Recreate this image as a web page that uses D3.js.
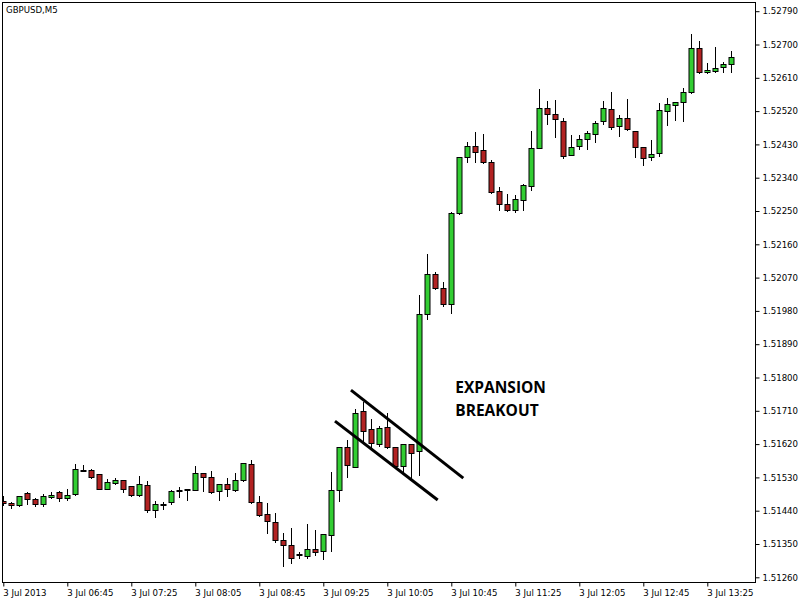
<!DOCTYPE html>
<html><head><meta charset="utf-8">
<script src="https://cdn.jsdelivr.net/npm/d3@7"></script>
<style>
html,body{margin:0;padding:0;background:#fff;}
svg{display:block;}
</style></head>
<body>
<svg id="chart" width="802" height="600"></svg>
<script>
const symbolTitle = "GBPUSD,M5";
const barTimes = ["06:05","06:10","06:15","06:20","06:25","06:30","06:35","06:40","06:45","06:50","06:55",
"07:00","07:05","07:10","07:15","07:20","07:25","07:30","07:35","07:40","07:45","07:50","07:55",
"08:00","08:05","08:10","08:15","08:20","08:25","08:30","08:35","08:40","08:45","08:50","08:55",
"09:00","09:05","09:10","09:15","09:20","09:25","09:30","09:35","09:40","09:45","09:50","09:55",
"10:00","10:05","10:10","10:15","10:20","10:25","10:30","10:35","10:40","10:45","10:50","10:55",
"11:00","11:05","11:10","11:15","11:20","11:25","11:30","11:35","11:40","11:45","11:50","11:55",
"12:00","12:05","12:10","12:15","12:20","12:25","12:30","12:35","12:40","12:45","12:50","12:55",
"13:00","13:05","13:10","13:15","13:20","13:25","13:30","13:35","13:40"];
const opens = [1.51467,1.51461,1.51455,1.51488,1.51472,1.51458,1.51478,1.51491,1.51474,1.51484,
1.51549,1.51549,1.51539,1.51500,1.51516,1.51523,1.51507,1.51482,1.51510,1.51443,
1.51455,1.51463,1.51494,1.51499,1.51497,1.51541,1.51530,1.51492,1.51511,1.51495,
1.51522,1.51565,1.51463,1.51430,1.51409,1.51360,1.51346,1.51321,1.51318,1.51336,
1.51330,1.51374,1.51495,1.51611,1.51559,1.51709,1.51660,1.51620,1.51665,1.51611,
1.51562,1.51620,1.51601,1.51971,1.52079,1.52041,1.51998,1.52244,1.52395,1.52425,
1.52414,1.52382,1.52303,1.52268,1.52252,1.52279,1.52317,1.52421,1.52528,1.52511,
1.52492,1.52401,1.52425,1.52444,1.52457,1.52492,1.52525,1.52479,1.52501,1.52465,
1.52422,1.52395,1.52406,1.52520,1.52536,1.52544,1.52571,1.52690,1.52625,1.52628,
1.52638,1.52647];
const highs = [1.51480,1.51464,1.51480,1.51491,1.51474,1.51485,1.51490,1.51492,1.51499,1.51566,
1.51564,1.51552,1.51540,1.51526,1.51528,1.51524,1.51508,1.51535,1.51520,1.51467,
1.51464,1.51495,1.51505,1.51500,1.51561,1.51542,1.51546,1.51512,1.51528,1.51541,
1.51569,1.51576,1.51480,1.51460,1.51433,1.51379,1.51392,1.51328,1.51403,1.51387,
1.51377,1.51544,1.51612,1.51631,1.51715,1.51735,1.51687,1.51669,1.51703,1.51612,
1.51621,1.51621,1.52023,1.52134,1.52085,1.52057,1.52247,1.52396,1.52436,1.52463,
1.52458,1.52387,1.52314,1.52295,1.52292,1.52322,1.52465,1.52579,1.52547,1.52549,
1.52501,1.52455,1.52455,1.52465,1.52492,1.52547,1.52571,1.52509,1.52552,1.52466,
1.52423,1.52441,1.52541,1.52555,1.52545,1.52582,1.52728,1.52709,1.52649,1.52692,
1.52652,1.52682];
const lows = [1.51455,1.51447,1.51454,1.51459,1.51452,1.51452,1.51475,1.51467,1.51470,1.51483,
1.51546,1.51529,1.51499,1.51499,1.51512,1.51490,1.51481,1.51481,1.51437,1.51424,
1.51445,1.51457,1.51478,1.51469,1.51496,1.51493,1.51489,1.51470,1.51479,1.51492,
1.51519,1.51462,1.51425,1.51379,1.51355,1.51290,1.51300,1.51311,1.51313,1.51320,
1.51310,1.51330,1.51465,1.51532,1.51558,1.51629,1.51609,1.51615,1.51610,1.51561,
1.51539,1.51528,1.51537,1.51958,1.52040,1.51994,1.51974,1.52243,1.52382,1.52382,
1.52379,1.52300,1.52253,1.52251,1.52247,1.52252,1.52308,1.52420,1.52484,1.52449,
1.52392,1.52400,1.52417,1.52417,1.52436,1.52484,1.52471,1.52452,1.52470,1.52395,
1.52374,1.52387,1.52398,1.52482,1.52495,1.52492,1.52570,1.52624,1.52622,1.52627,
1.52627,1.52627];
const closes = [1.51460,1.51455,1.51479,1.51471,1.51458,1.51479,1.51482,1.51474,1.51482,1.51552,
1.51547,1.51530,1.51500,1.51518,1.51523,1.51500,1.51482,1.51512,1.51443,1.51458,
1.51457,1.51493,1.51496,1.51495,1.51541,1.51530,1.51490,1.51511,1.51500,1.51522,
1.51568,1.51464,1.51428,1.51411,1.51360,1.51346,1.51311,1.51323,1.51336,1.51328,
1.51376,1.51495,1.51611,1.51563,1.51703,1.51656,1.51622,1.51663,1.51611,1.51562,
1.51620,1.51597,1.51972,1.52079,1.52041,1.51998,1.52244,1.52395,1.52425,1.52410,
1.52382,1.52301,1.52268,1.52252,1.52282,1.52320,1.52420,1.52528,1.52511,1.52498,
1.52398,1.52422,1.52444,1.52460,1.52487,1.52528,1.52476,1.52501,1.52471,1.52422,
1.52392,1.52403,1.52522,1.52538,1.52544,1.52571,1.52690,1.52625,1.52630,1.52636,
1.52647,1.52665];
const priceTicks = [1.51260,1.51350,1.51440,1.51530,1.51620,1.51710,1.51800,1.51890,1.51980,
1.52070,1.52160,1.52250,1.52340,1.52430,1.52520,1.52610,1.52700,1.52790];
const timeTickIndex = [0,8,16,24,32,40,48,56,64,72,80,88];
const timeTickLabels = ["3 Jul 2013","3 Jul 06:45","3 Jul 07:25","3 Jul 08:05","3 Jul 08:45","3 Jul 09:25",
"3 Jul 10:05","3 Jul 10:45","3 Jul 11:25","3 Jul 12:05","3 Jul 12:45","3 Jul 13:25"];
// channel lines: [barIndex, price]
const channelUpper = [[43.46,1.51766],[57.5,1.51528]];
const channelLower = [[41.46,1.51682],[54.3,1.51469]];
const annotation = {lines:["EXPANSION","BREAKOUT"], at:[56.5,1.51759], step:-0.00064};

const bars = barTimes.map((t,i)=>({i,t,o:opens[i],h:highs[i],l:lows[i],c:closes[i]}));

const svg = d3.select("#chart");
const L=2, T=2, R=755, B=582;
const x = d3.scaleLinear().domain([0, barTimes.length-1]).range([3.3, 3.3+8*(barTimes.length-1)]);
const y = d3.scaleLinear().domain([1.51260, 1.52790]).range([577.3, 11.2]);

svg.append("rect").attr("width",802).attr("height",600).attr("fill","#fff");

const clipId="plotclip";
svg.append("clipPath").attr("id",clipId).append("rect").attr("x",L).attr("y",T).attr("width",R-L).attr("height",B-T);
const plot = svg.append("g").attr("clip-path",`url(#${clipId})`);

const cx = d => Math.round(x(d.i))+0.5;
plot.selectAll("line.wick").data(bars).join("line").attr("class","wick")
  .attr("x1",cx).attr("x2",cx)
  .attr("y1",d=>Math.round(y(d.h))).attr("y2",d=>Math.round(y(d.l))+1)
  .attr("stroke","#000").attr("stroke-width",1);
plot.selectAll("rect.body").data(bars).join("rect").attr("class","body")
  .attr("x",d=>cx(d)-2.5).attr("width",5)
  .attr("y",d=>Math.round(y(Math.max(d.o,d.c)))+0.5)
  .attr("height",d=>Math.max(1, Math.round(y(Math.min(d.o,d.c)))-Math.round(y(Math.max(d.o,d.c)))))
  .attr("fill",d=>d.c>=d.o?"#32CD32":"#B22222")
  .attr("stroke","#000").attr("stroke-width",1);

// channel lines
[channelUpper, channelLower].forEach(seg=>{
  plot.append("line")
    .attr("x1",x(seg[0][0])).attr("y1",y(seg[0][1]))
    .attr("x2",x(seg[1][0])).attr("y2",y(seg[1][1]))
    .attr("stroke","#000").attr("stroke-width",3);
});

// annotation
const ann = plot.append("g");
annotation.lines.forEach((s,k)=>{
  ann.append("text").attr("x",x(annotation.at[0])).attr("y",y(annotation.at[1]+k*annotation.step))
    .attr("font-family","'Open Sans', sans-serif").attr("font-weight","bold").attr("font-size",15.5)
    .attr("fill","#000").text(s);
});

// frame
svg.append("rect").attr("x",L+0.5).attr("y",T+0.5).attr("width",R-L).attr("height",B-T)
  .attr("fill","none").attr("stroke","#000").attr("stroke-width",1);

// y axis (right)
const yAxis = d3.axisRight(y).tickValues(priceTicks).tickFormat(d3.format(".5f")).tickSize(4).tickPadding(3);
const gy = svg.append("g").attr("transform",`translate(${R+0.5},0)`).call(yAxis);
gy.select(".domain").remove();
gy.selectAll("text").attr("font-family","'DejaVu Sans', sans-serif").attr("font-size",8.6).attr("fill","#000");

// x axis (bottom)
const xAxis = d3.axisBottom(x).tickValues(timeTickIndex).tickFormat((d,k)=>timeTickLabels[k]).tickSize(4).tickPadding(3);
const gx = svg.append("g").attr("transform",`translate(0,${B+0.5})`).call(xAxis);
gx.select(".domain").remove();
gx.selectAll("text").attr("text-anchor","start").attr("dx",-0.5)
  .attr("font-family","'DejaVu Sans', sans-serif").attr("font-size",8.6).attr("fill","#000");

// title
svg.append("text").attr("x",6).attr("y",13).attr("font-family","'DejaVu Sans', sans-serif")
  .attr("font-size",8.6).attr("fill","#000").text(symbolTitle);
</script>
</body></html>
